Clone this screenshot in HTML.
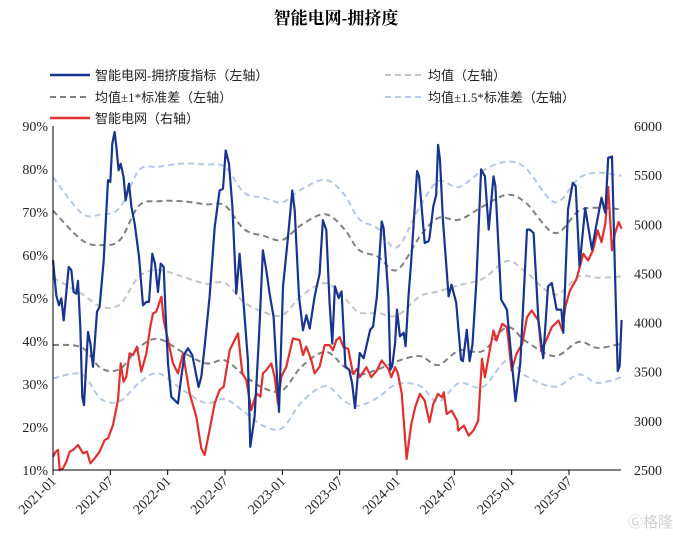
<!DOCTYPE html>
<html><head><meta charset="utf-8">
<style>
body{margin:0;background:#fff;width:673px;height:540px;overflow:hidden}
svg{display:block}
</style></head>
<body>
<svg id="chart" width="673" height="540" xmlns="http://www.w3.org/2000/svg">
<text x="336" y="24" text-anchor="middle" font-family="'Liberation Serif','Noto Serif CJK SC',serif" font-weight="bold" font-size="17" fill="#000">智能电网-拥挤度</text>
<g font-family="'Liberation Serif','Noto Sans CJK SC',sans-serif" font-size="13" fill="#222">
<g><line x1="50" y1="75" x2="90" y2="75" stroke="#17358f" stroke-width="2.5"/><text x="95" y="80">智能电网-拥挤度指标（左轴）</text></g>
<g><line x1="385" y1="75" x2="422" y2="75" stroke="#c4c4c4" stroke-width="2" stroke-dasharray="6,4"/><text x="428" y="80">均值（左轴）</text></g>
<g><line x1="50" y1="97" x2="90" y2="97" stroke="#808080" stroke-width="2" stroke-dasharray="6,4"/><text x="95" y="102">均值±1*标准差（左轴）</text></g>
<g><line x1="385" y1="97" x2="422" y2="97" stroke="#b4c7e7" stroke-width="2" stroke-dasharray="6,4"/><text x="428" y="102">均值±1.5*标准差（左轴）</text></g>
<g><line x1="50" y1="118" x2="90" y2="118" stroke="#e03030" stroke-width="2.5"/><text x="95" y="123">智能电网（右轴）</text></g>
</g>
<g id="plot"></g>
<text x="628" y="527" font-family="'Noto Sans CJK SC',sans-serif" font-size="15" fill="#d0d0d0">Ⓖ格隆汇</text>
</svg>
<script>
const xTickLabels=["2021-01","2021-07","2022-01","2022-07","2023-01","2023-07","2024-01","2024-07","2025-01","2025-07"];
const leftTicks=[10,20,30,40,50,60,70,80,90];
const rightTicks=[2500,3000,3500,4000,4500,5000,5500,6000];
const idxMonths=[0,.35,.63,.87,1.12,1.64,1.92,2.16,2.44,2.62,2.86,3.07,3.24,3.66,3.91,4.19,4.6,4.88,5.3,5.76,6.0,6.21,6.45,6.63,6.87,7.08,7.39,7.6,7.95,8.2,8.55,9.0,9.42,9.77,10.05,10.39,10.67,10.99,11.27,11.58,11.79,12.03,12.38,13.08,13.43,13.78,14.13,14.58,15.24,15.52,15.87,16.39,16.92,17.44,17.79,18.07,18.42,18.77,19.18,19.53,19.95,20.4,20.65,21.1,21.56,21.97,22.32,22.67,23.09,23.65,24.07,24.59,25.04,25.29,25.74,26.16,26.51,26.86,27.38,27.9,28.25,28.6,28.95,29.23,29.5,29.9,30.2,30.6,31.0,31.3,31.6,32.1,32.5,33.2,33.5,33.9,34.4,34.6,35.1,35.3,35.5,35.8,36.0,36.3,36.7,36.9,37.2,37.5,38.1,38.3,38.9,39.3,39.4,39.8,40.1,40.3,40.5,40.8,41.4,41.7,42.2,42.7,42.9,43.3,43.6,43.9,44.3,44.8,45.2,45.6,46.1,46.3,46.9,47.5,48.4,48.9,49.6,49.9,50.3,50.8,51.3,51.8,52.2,52.7,53.2,53.4,53.9,54.4,54.7,55.1,55.7,56.4,56.9,57.4,57.8,58.1,58.5,58.8,59.1,59.3,59.5];
const idxValues=[58.8,50.6,48.3,49.9,44.8,57.2,56.5,51.4,51,54,43.3,27,25.1,42.1,39.4,34,46.8,48,58.4,77.4,77,85.9,88.6,85.1,79.7,81.2,78.1,72.7,76.6,71.2,67.3,59.6,48.3,49.1,49.1,60.3,58,51.4,58,57.2,45.6,34.8,27,25.5,31.7,37.1,38.3,36.7,29.3,31.7,38.6,50.3,66.5,75,75.4,84.3,81.2,71.2,51,60.3,48.7,35.6,15.4,22.4,41,61.1,56.5,51,45.6,23.5,52.6,64.2,75,70.4,50.3,42.5,46,42.9,50.3,55.7,68.1,65.8,48.7,39.4,52.7,50,51.5,34.1,33.3,30.2,24.4,37.2,36,42.6,43.4,50.4,67.8,66.3,50.4,33.3,34.1,39.5,47.3,41.1,41.9,38.8,50.4,58.9,79.5,78.3,62.8,63.2,64,71.3,74,85.6,82.1,68.2,50.4,53.1,48.9,35.7,35.3,42.6,35.3,39.2,53.5,79.9,78.3,65.9,78.3,76,49.6,47.3,26,34.9,65.9,65.9,65.1,44.9,36,52.7,53.5,47.3,47.3,41.9,70.6,76.8,76,57.4,70.9,61.3,67.4,73.3,69.8,82.6,82.9,56.6,33,34.1,44.9];
const priceMonths=[0,.28,.52,.7,1.05,1.4,1.74,2.09,2.62,3.14,3.56,3.91,4.36,4.88,5.41,5.76,6.28,6.8,7.08,7.39,7.67,8.02,8.37,8.79,9.24,9.77,10.18,10.46,10.81,11.09,11.34,11.58,12.03,12.56,13.08,13.6,14.3,15.0,15.52,15.87,16.39,16.92,17.44,17.86,18.49,18.84,19.36,19.81,20.23,20.75,21.28,21.7,21.97,22.32,22.85,23.19,23.54,23.89,24.42,25.11,25.81,26.16,26.51,27.03,27.38,27.9,28.43,28.95,29.3,29.65,30.0,30.4,30.9,31.4,31.8,32.1,32.8,33.3,33.9,34.4,35.1,35.4,35.8,36.1,36.5,37.0,37.5,37.9,38.4,38.9,39.4,39.8,40.3,40.7,40.9,41.2,41.7,42.3,42.4,43.0,43.5,44.0,44.5,44.9,45.2,45.7,46.1,46.4,47.0,47.5,48.0,48.5,49.1,49.6,50.1,50.8,51.1,51.6,52.2,52.9,53.3,53.6,54.1,54.8,55.5,56.0,56.5,57.0,57.4,57.8,58.1,58.5,58.8,59.2,59.5];
const priceValues=[2636,2686,2703,2500,2517,2585,2686,2703,2754,2670,2686,2568,2619,2686,2805,2822,2958,3212,3585,3398,3449,3687,3670,3754,3500,3687,3958,4093,4110,4195,4263,4025,3822,3585,3483,3687,3280,3042,2720,2653,2907,3178,3314,3348,3720,3788,3890,3483,3415,3110,3280,3246,3483,3517,3585,3449,3178,3449,3551,3839,3822,3670,3754,3619,3483,3551,3771,3771,3720,3822,3851,3749,3732,3478,3529,3444,3546,3444,3512,3614,3529,3444,3546,3478,3274,2612,2968,3138,3274,3206,2985,3172,3274,3240,3291,3070,3104,3002,2901,2952,2850,2901,3002,3630,3444,3715,3919,3817,3987,3953,3512,3681,3783,4055,4123,4021,3715,3817,3953,4021,3919,4157,4327,4445,4700,4632,4734,4938,4819,5006,5379,4734,4904,5023,4955];
const statMonths=[0,3,5,7,9,11,13.5,16,18,20,22,24,26,28.5,30.5,32,34,36,38.4,40.3,42.5,45,47.5,49.5,52.5,55,57,59.5];
const meanValues=[54.7,51,48,48.5,55,56.5,55,53.3,53.5,49,46.8,46,50.5,53.5,50,46.7,46.5,45.9,50.4,51.5,53,54.5,58.6,56,50.8,55,54.7,55];
const stdValues=[15.6,12.5,14.3,15,16.5,16,17.5,18.5,18,17,17.7,17.5,16.5,16,16,14.5,13.1,10.6,13.9,17.1,15.2,16.8,15.4,16.1,14.3,15.2,16.3,15.6];

const NS="http://www.w3.org/2000/svg";
const X0=53,X1=621,Y0=470,Y1=126;
const x=m=>X0+m*(569-53)/54;
const yL=v=>Y0-(v-10)/80*(Y0-Y1);
const yR=v=>Y0-(v-2500)/3500*(Y0-Y1);
const plot=document.getElementById('plot');
function mk(tag,attrs,parent){const e=document.createElementNS(NS,tag);for(const k in attrs)e.setAttribute(k,attrs[k]);(parent||plot).appendChild(e);return e;}
function smoothPath(xs,ys){let d="M"+xs[0].toFixed(1)+","+ys[0].toFixed(1);for(let i=0;i<xs.length-1;i++){const x0=xs[Math.max(i-1,0)],y0=ys[Math.max(i-1,0)],x1=xs[i],y1=ys[i],x2=xs[i+1],y2=ys[i+1],x3=xs[Math.min(i+2,xs.length-1)],y3=ys[Math.min(i+2,xs.length-1)];d+=" C"+(x1+(x2-x0)/6).toFixed(1)+","+(y1+(y2-y0)/6).toFixed(1)+" "+(x2-(x3-x1)/6).toFixed(1)+","+(y2-(y3-y1)/6).toFixed(1)+" "+x2.toFixed(1)+","+y2.toFixed(1);}return d;}
function linePath(xs,ys){return xs.map((v,i)=>(i?"L":"M")+v.toFixed(1)+","+ys[i].toFixed(1)).join("");}

const band=(k)=>meanValues.map((m,i)=>m+k*stdValues[i]);
const sx=statMonths.map(x);
const bands=[[1.5,'#b4c7e7','band-upper-1-5std'],[-1.5,'#b4c7e7','band-lower-1-5std'],[1,'#808080','band-upper-1std'],[-1,'#808080','band-lower-1std'],[0,'#c4c4c4','mean-line']];
for(const [k,c,n] of bands){
  const p=mk('path',{d:smoothPath(sx,band(k).map(yL)),fill:'none',stroke:c,'stroke-width':2,'stroke-dasharray':'6,4'});
  
  
}
const pr=mk('path',{d:linePath(priceMonths.map(x),priceValues.map(yR)),fill:'none',stroke:'#e03030','stroke-width':2.2,'stroke-linejoin':'round'});


const ix=mk('path',{d:linePath(idxMonths.map(x),idxValues.map(yL)),fill:'none',stroke:'#17358f','stroke-width':2.2,'stroke-linejoin':'round'});



const ax=mk('g',{});


mk('line',{x1:X0,y1:Y1,x2:X0,y2:Y0,stroke:'#000','stroke-width':1},ax);
mk('line',{x1:X0,y1:Y0,x2:X1,y2:Y0,stroke:'#000','stroke-width':1},ax);
const font="'Liberation Serif',serif";
leftTicks.forEach(v=>{
  const t=mk('text',{x:X0-5,y:yL(v)+5,'text-anchor':'end','font-family':font,'font-size':14,fill:'#222'},ax);
  t.textContent=v+'%';
  
  
});
rightTicks.forEach(v=>{
  const t=mk('text',{x:634,y:yR(v)+5,'font-family':font,'font-size':14,fill:'#222'},ax);
  t.textContent=v;
  
  
});
xTickLabels.forEach((l,i)=>{
  const px=x(i*6);
  mk('line',{x1:px,y1:Y0,x2:px,y2:Y0+5,stroke:'#000','stroke-width':1},ax);
  const t=mk('text',{x:px+4,y:Y0+12,'text-anchor':'end','font-family':font,'font-size':14,fill:'#222',transform:'rotate(-45 '+(px+4)+' '+(Y0+12)+')'},ax);
  t.textContent=l;
  
  
});
</script>
</body></html>
